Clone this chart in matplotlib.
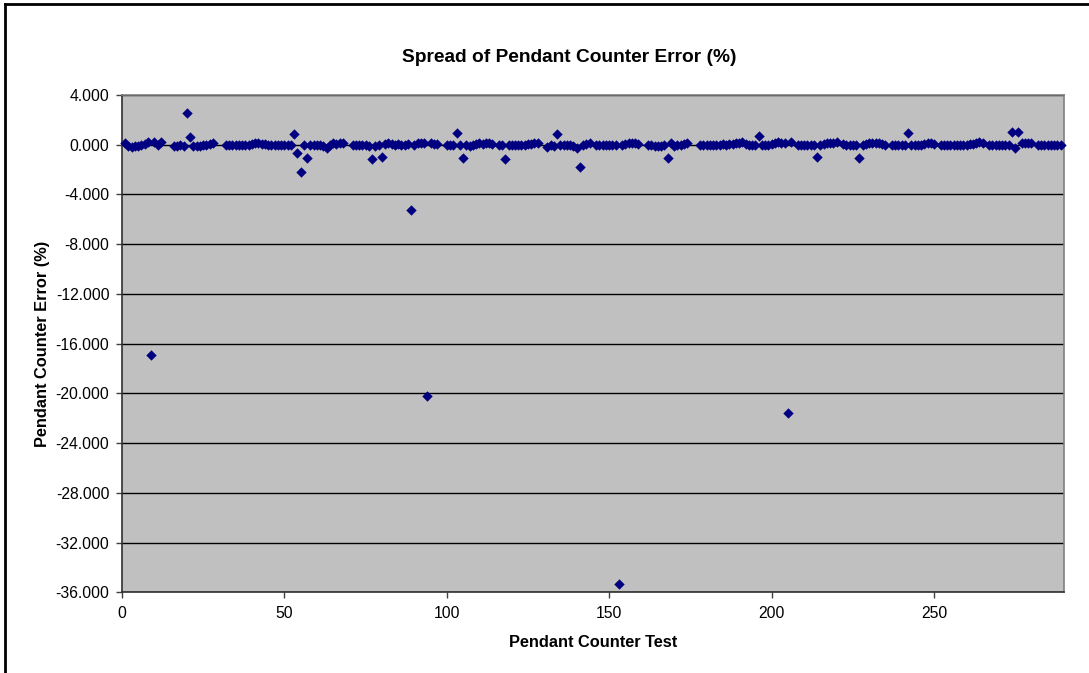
import numpy as np
import matplotlib
matplotlib.use("Agg")
from matplotlib import pyplot as plt
from matplotlib.lines import Line2D
from matplotlib.ticker import FormatStrFormatter

plt.rcParams["font.family"] = ["Liberation Sans", "DejaVu Sans"]
plt.rcParams["axes.unicode_minus"] = False

# 吊坠计数器误差 (%)，测试编号 1..289，None 为缺测
error_pct = [
    0.10, -0.10, -0.20, -0.15, -0.10, -0.05, 0.05, 0.20, -16.90, 0.25,     # 1-10
    -0.05, 0.20, None, None, None, -0.10, -0.10, -0.05, -0.10, 2.55,       # 11-20
    0.62, -0.10, -0.15, -0.10, -0.05, 0.00, 0.05, 0.15, None, None,        # 21-30
    None, -0.05, -0.05, -0.05, -0.05, -0.05, -0.05, -0.05, 0.00, 0.05,     # 31-40
    0.10, 0.10, 0.05, 0.05, 0.00, -0.05, -0.05, -0.05, 0.00, 0.00,         # 41-50
    -0.05, 0.00, 0.86, -0.64, -2.20, 0.00, -1.10, -0.05, -0.05, 0.00,      # 51-60
    -0.05, -0.10, -0.25, 0.00, 0.10, 0.05, 0.15, 0.10, None, None,         # 61-70
    -0.05, -0.05, 0.00, -0.05, -0.05, -0.10, -1.17, -0.10, 0.00, -0.96,    # 71-80
    0.05, 0.10, 0.05, 0.00, 0.05, -0.05, 0.00, 0.05, -5.25, 0.00,          # 81-90
    0.10, 0.15, 0.10, -20.25, 0.15, 0.05, 0.05, None, None, 0.00,          # 91-100
    0.00, -0.05, 0.97, -0.05, -1.04, 0.00, -0.10, -0.05, 0.05, 0.10,       # 101-110
    0.05, 0.10, 0.10, 0.05, None, 0.00, -0.05, -1.12, -0.05, -0.05,        # 111-120
    -0.05, -0.05, 0.00, 0.00, 0.05, 0.05, 0.10, 0.10, None, None,          # 121-130
    -0.20, 0.00, -0.15, 0.86, -0.05, 0.00, 0.00, -0.05, -0.10, -0.30,      # 131-140
    -1.77, 0.00, 0.05, 0.10, None, 0.00, 0.00, -0.05, -0.05, -0.05,        # 141-150
    -0.05, -0.05, -35.30, 0.00, 0.05, 0.10, 0.10, 0.10, 0.05, None,        # 151-160
    None, 0.00, -0.05, -0.10, -0.15, -0.10, -0.05, -1.04, 0.10, -0.10,     # 161-170
    -0.05, 0.00, 0.05, 0.10, None, None, None, -0.05, -0.05, 0.00,         # 171-180
    -0.05, 0.00, 0.00, 0.00, 0.05, 0.00, 0.05, 0.05, 0.10, 0.15,           # 181-190
    0.20, 0.05, 0.00, -0.05, 0.00, 0.72, -0.05, 0.00, 0.00, 0.05,          # 191-200
    0.10, 0.20, 0.15, 0.10, -21.55, 0.20, None, 0.00, -0.05, -0.05,        # 201-210
    -0.05, 0.00, -0.05, -1.00, 0.00, 0.05, 0.10, 0.15, 0.15, 0.20,         # 211-220
    None, 0.05, 0.00, -0.05, -0.05, 0.00, -1.05, 0.00, 0.05, 0.10,         # 221-230
    0.10, 0.10, 0.10, 0.05, 0.00, None, -0.05, 0.00, 0.00, -0.05,          # 231-240
    0.00, 0.92, -0.05, -0.05, 0.00, 0.00, 0.05, 0.10, 0.15, 0.05,          # 241-250
    None, 0.00, -0.05, -0.05, -0.05, -0.05, 0.00, -0.05, 0.00, 0.00,       # 251-260
    0.05, 0.05, 0.10, 0.20, 0.10, None, 0.00, -0.05, -0.05, -0.05,         # 261-270
    -0.05, -0.05, 0.00, 1.02, -0.30, 1.02, 0.10, 0.15, 0.15, 0.10,         # 271-280
    None, 0.00, -0.05, -0.05, -0.05, -0.05, -0.05, -0.05, -0.05,           # 281-289
]
test_no = list(range(1, len(error_pct) + 1))

x_ticks = [0, 50, 100, 150, 200, 250]
y_ticks = list(range(-36, 5, 4))

xs = [t for t, v in zip(test_no, error_pct) if v is not None]
ys = [v for v in error_pct if v is not None]

fig = plt.figure(figsize=(10.89, 6.73), dpi=100)
ax = fig.add_axes([0.112, 0.120, 0.865, 0.739])
ax.set_facecolor("#C0C0C0")

ax.scatter(xs, ys, marker="D", s=28, color="#000080", linewidths=0, zorder=3, clip_on=False)

ax.set_xlim(0, 290)
ax.set_ylim(-36, 4)
ax.set_xticks(x_ticks)
ax.set_yticks(y_ticks)
ax.yaxis.set_major_formatter(FormatStrFormatter("%.3f"))
ax.grid(axis="y", color="black", linewidth=1.0)
ax.set_axisbelow(True)

ax.tick_params(axis="both", direction="out", length=4, width=1, color="#404040",
               labelsize=11.3, pad=5)
ax.tick_params(axis="x", pad=6)
for side in ("left", "bottom"):
    ax.spines[side].set_color("#303030")
    ax.spines[side].set_linewidth(1.2)
for side in ("top", "right"):
    ax.spines[side].set_color("#808080")
    ax.spines[side].set_linewidth(1.2)

# 标题
fig.text(569.5 / 1089, 1 - 58 / 673, "Spread of Pendant Counter Error (%)",
         fontsize=13.8, fontweight="bold", ha="center", va="center")
ax.set_xlabel("Pendant Counter Test", fontsize=11.8, fontweight="bold", labelpad=10)
ax.set_ylabel("Pendant Counter Error (%)", fontsize=11.8, fontweight="bold", labelpad=4)

# 图框（左、上）
fig.add_artist(Line2D([0.005, 0.005], [0.0, 0.994], color="black", linewidth=2))
fig.add_artist(Line2D([0.005, 1.0], [0.994, 0.994], color="black", linewidth=2))

fig.savefig("out.png", dpi=100)
